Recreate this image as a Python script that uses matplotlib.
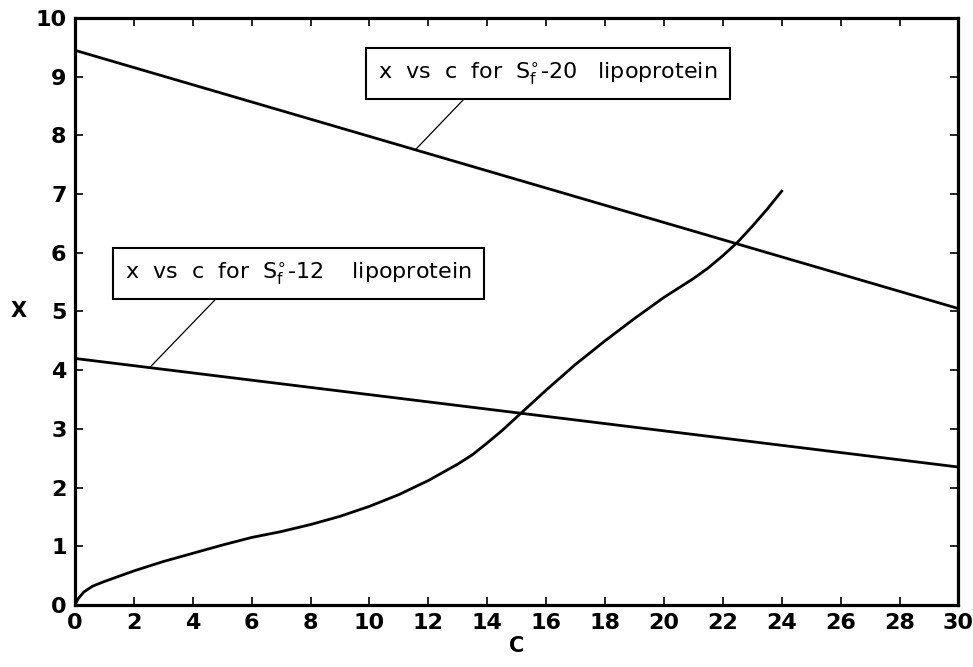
import numpy as np
import matplotlib.pyplot as plt

plt.rcParams['font.family'] = ['DejaVu Sans']
plt.rcParams['mathtext.fontset'] = 'dejavusans'

# straight lines: x vs c
c_line = [0, 30]
x_sf20 = [9.45, 5.05]
x_sf12 = [4.2, 2.35]

# curve
c_curve = [0, 0.1, 0.3, 0.6, 1, 1.5, 2, 3, 4, 5, 6, 7, 8, 9, 10, 11, 12, 13,
           13.5, 14, 14.5, 15, 16, 17, 18, 19, 20, 20.5, 21, 21.5, 22, 22.5,
           23, 23.5, 24]
x_curve = [0, 0.1, 0.22, 0.32, 0.4, 0.49, 0.58, 0.74, 0.88, 1.02, 1.15, 1.25,
           1.37, 1.51, 1.68, 1.88, 2.12, 2.4, 2.56, 2.76, 2.97, 3.2, 3.66, 4.1,
           4.5, 4.88, 5.24, 5.4, 5.56, 5.74, 5.95, 6.18, 6.45, 6.74, 7.05]

label20 = r'x  vs  c  for  $\mathrm{S}_\mathrm{f}^{\circ}$-20   lipoprotein'
label12 = r'x  vs  c  for  $\mathrm{S}_\mathrm{f}^{\circ}$-12    lipoprotein'

fig = plt.figure(figsize=(9.73, 6.67), dpi=100)
ax = fig.add_axes([0.077, 0.093, 0.908, 0.88])

ax.plot(c_line, x_sf20, color='black', lw=2.0)
ax.plot(c_line, x_sf12, color='black', lw=2.0)
ax.plot(c_curve, x_curve, color='black', lw=2.0, solid_joinstyle='round')

# leader lines
ax.plot([11.55, 13.25], [7.75, 8.64], color='black', lw=0.9)
ax.plot([2.55, 4.76], [4.05, 5.2], color='black', lw=0.9)

box = dict(boxstyle='square,pad=0.55', fc='white', ec='black', lw=1.5)
ax.text(16.05, 9.05, label20, fontsize=16, ha='center', va='center', bbox=box)
ax.text(7.6, 5.65, label12, fontsize=16, ha='center', va='center', bbox=box)

ax.set_xlim(0, 30)
ax.set_ylim(0, 10)
ax.set_xticks(range(0, 31, 2))
ax.set_yticks(range(0, 11))
ax.tick_params(direction='in', length=6, width=1.2, top=True, right=True,
               labelsize=16, pad=6)
for lab in ax.get_xticklabels() + ax.get_yticklabels():
    lab.set_fontweight('bold')
for s in ax.spines.values():
    s.set_linewidth(2.3)

ax.set_xlabel('C', fontsize=15, fontweight='bold', labelpad=2)
ax.set_ylabel('X', fontsize=15, fontweight='bold', rotation=0, labelpad=12,
              va='center')

fig.savefig('out.png', dpi=100)
